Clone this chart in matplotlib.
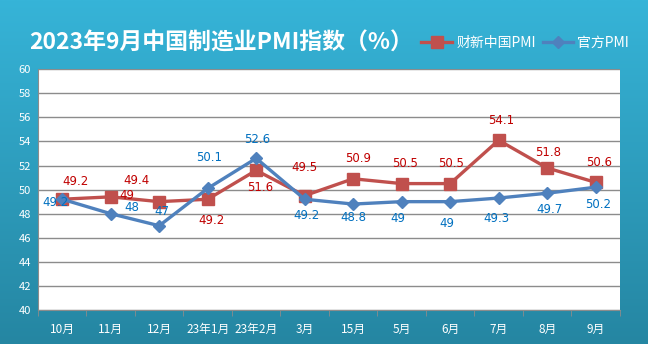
import numpy as np
import matplotlib.pyplot as plt

plt.rcParams['font.family'] = ['Noto Sans CJK SC', 'DejaVu Sans']

months = ["10月", "11月", "12月", "23年1月", "23年2月", "3月", "15月", "5月", "6月", "7月", "8月", "9月"]
caixin = [49.2, 49.4, 49.0, 49.2, 51.6, 49.5, 50.9, 50.5, 50.5, 54.1, 51.8, 50.6]
official = [49.2, 48.0, 47.0, 50.1, 52.6, 49.2, 48.8, 49.0, 49.0, 49.3, 49.7, 50.2]
caixin_txt = ["49.2", "49.4", "49", "49.2", "51.6", "49.5", "50.9", "50.5", "50.5", "54.1", "51.8", "50.6"]
official_txt = ["49.2", "48", "47", "50.1", "52.6", "49.2", "48.8", "49", "49", "49.3", "49.7", "50.2"]

# label offsets in pixels (picked by hand, like the original)
caixin_off = [(13, 18), (26, 16), (-32, 6), (4, -21), (4, -17), (0, 28),
              (5, 20), (3, 20), (1, 20), (3, 20), (1, 15), (3, 20)]
official_off = [(-7, -3), (21, 6), (3, 14), (1, 31), (1, 19), (2, -16),
                (0, -13), (-4, -17), (-3, -22), (-2, -20), (2, -16), (2, -17)]

red = "#c0504d"
blue = "#4f81bd"

fig = plt.figure(figsize=(6.48, 3.44), dpi=100)

# background gradient
bg = fig.add_axes([0, 0, 1, 1])
grad = np.linspace(0, 1, 256).reshape(-1, 1)
c_top = np.array([0x36, 0xb4, 0xd8]) / 255
c_bot = np.array([0x25, 0x86, 0xa2]) / 255
img = c_top + grad[:, :, None] * (c_bot - c_top)
bg.imshow(img, aspect='auto', extent=[0, 1, 0, 1])
bg.axis('off')

ax = fig.add_axes([0.0586, 0.0988, 0.898, 0.700])
ax.set_facecolor("white")
x = np.arange(len(months))

ax.plot(x, caixin, color=red, lw=2.4, marker='s', ms=9, label="财新中国PMI", zorder=3)
ax.plot(x, official, color=blue, lw=2.4, marker='D', ms=6.5, label="官方PMI", zorder=4)

for i in range(len(months)):
    ax.annotate(caixin_txt[i], (x[i], caixin[i]), xytext=caixin_off[i], textcoords='offset pixels',
                ha='center', va='center', color="#c00000", fontsize=8.5, family='DejaVu Sans', zorder=5)
    ax.annotate(official_txt[i], (x[i], official[i]), xytext=official_off[i], textcoords='offset pixels',
                ha='center', va='center', color="#0070c0", fontsize=8.5, family='DejaVu Sans', zorder=5)

ax.set_xlim(-0.5, len(months) - 0.5)
ax.set_ylim(40, 60)
ax.set_yticks(np.arange(40, 61, 2))
ax.grid(axis='y', color="#8c8c8c", lw=1)
ax.set_axisbelow(True)

ax.set_xticks(x)
ax.set_xticklabels(months, color="white", fontsize=8.5)
ax.set_xticks(np.arange(-0.5, len(months)), minor=True)
ax.tick_params(axis='x', which='major', length=0, pad=9)
ax.tick_params(axis='x', which='minor', length=4, color="#8c8c8c")
ax.tick_params(axis='y', length=0, labelcolor="white", labelsize=8, pad=5)

for s in ['top', 'right']:
    ax.spines[s].set_visible(False)
ax.spines['left'].set_color("#8c8c8c")
ax.spines['bottom'].set_color("#8c8c8c")

fig.text(0.045, 0.876, "2023年9月中国制造业PMI指数（%）", color="white", fontsize=16.5,
         fontweight='bold', va='center', ha='left')

leg = fig.legend(loc='center right', bbox_to_anchor=(0.99, 0.876), ncol=2, frameon=False,
                 fontsize=10, handlelength=2.2, columnspacing=0.5, handletextpad=0.3)
for t in leg.get_texts():
    t.set_color("white")

fig.savefig("out.png", dpi=100)
